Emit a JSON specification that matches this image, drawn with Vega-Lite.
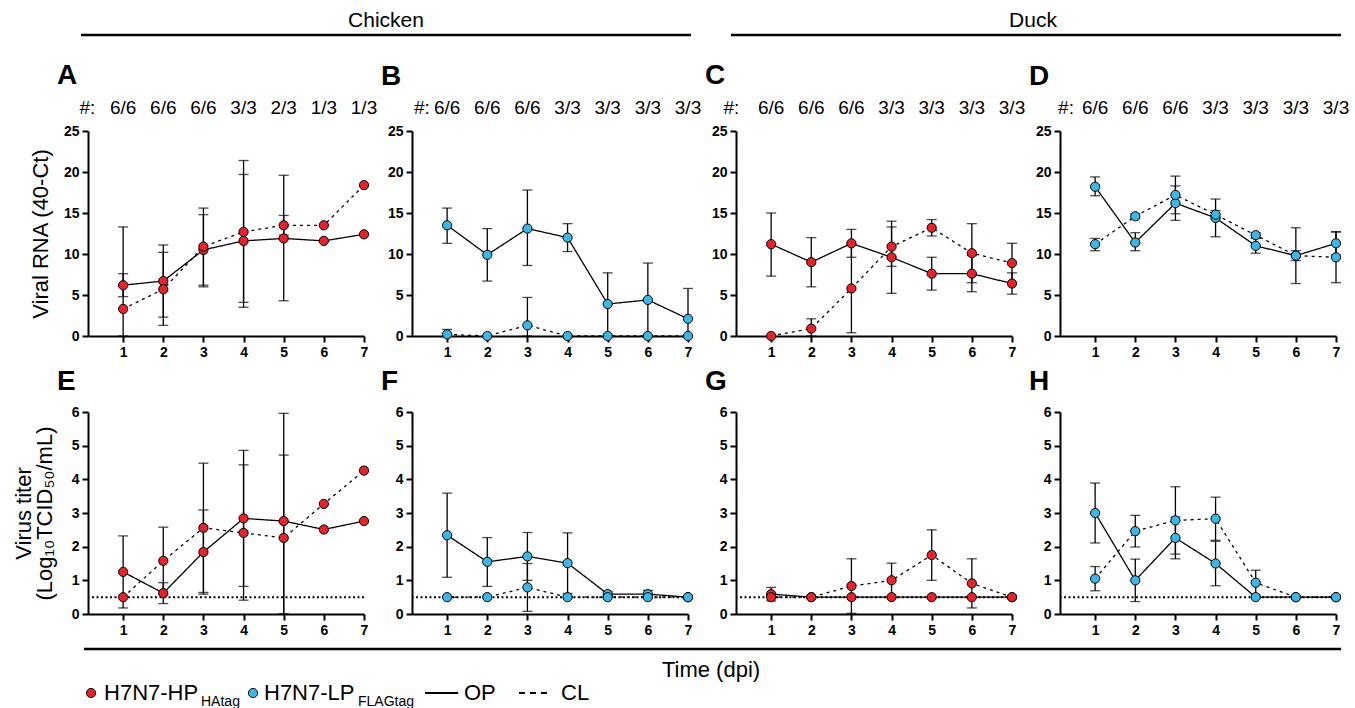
{
"$schema":"https://vega.github.io/schema/vega-lite/v6.json",
"padding":{"left":12,"top":10,"right":5,"bottom":0},
"background":"white",
"config":{"font":"Liberation Sans","view":{"stroke":null},
"axis":{"domainColor":"black","domainWidth":2,"tickColor":"black","tickWidth":2,"tickSize":6,"labelColor":"black","labelFontSize":14,"labelFontWeight":"bold","labelFont":"Liberation Sans","labelPadding":3,"labelFlush":false,"grid":false,"titleFont":"Liberation Sans","titleFontSize":22,"titleFontWeight":"normal","titleColor":"black"},
"title":{"font":"Liberation Sans","fontSize":28,"fontWeight":"bold","color":"black","anchor":"start","frame":"group","dx":-31}},
"datasets":{
"d":[
{"p":"A","s":"HP","g":"OP","day":1,"m":6.2,"lo":4.8,"hi":7.6},{"p":"A","s":"HP","g":"OP","day":2,"m":6.7,"lo":2.3,"hi":11.1},{"p":"A","s":"HP","g":"OP","day":3,"m":10.5,"lo":6.0,"hi":14.8},{"p":"A","s":"HP","g":"OP","day":4,"m":11.6,"lo":3.5,"hi":19.7},{"p":"A","s":"HP","g":"OP","day":5,"m":11.9,"lo":4.3,"hi":19.6},{"p":"A","s":"HP","g":"OP","day":6,"m":11.6},{"p":"A","s":"HP","g":"OP","day":7,"m":12.4},
{"p":"A","s":"HP","g":"CL","day":1,"m":3.3,"lo":0,"hi":13.3},{"p":"A","s":"HP","g":"CL","day":2,"m":5.7,"lo":1.3,"hi":10.2},{"p":"A","s":"HP","g":"CL","day":3,"m":10.9,"lo":6.2,"hi":15.6},{"p":"A","s":"HP","g":"CL","day":4,"m":12.7,"lo":4.1,"hi":21.4},{"p":"A","s":"HP","g":"CL","day":5,"m":13.5,"lo":12.3,"hi":14.7},{"p":"A","s":"HP","g":"CL","day":6,"m":13.5},{"p":"A","s":"HP","g":"CL","day":7,"m":18.4},
{"p":"B","s":"LP","g":"OP","day":1,"m":13.5,"lo":11.3,"hi":15.6},{"p":"B","s":"LP","g":"OP","day":2,"m":9.9,"lo":6.7,"hi":13.1},{"p":"B","s":"LP","g":"OP","day":3,"m":13.1,"lo":8.6,"hi":17.8},{"p":"B","s":"LP","g":"OP","day":4,"m":12.0,"lo":10.3,"hi":13.7},{"p":"B","s":"LP","g":"OP","day":5,"m":3.9,"lo":0,"hi":7.7},{"p":"B","s":"LP","g":"OP","day":6,"m":4.4,"lo":0,"hi":8.9},{"p":"B","s":"LP","g":"OP","day":7,"m":2.1,"lo":0,"hi":5.8},
{"p":"B","s":"LP","g":"CL","day":1,"m":0.2,"lo":0,"hi":0.8},{"p":"B","s":"LP","g":"CL","day":2,"m":0},{"p":"B","s":"LP","g":"CL","day":3,"m":1.3,"lo":0,"hi":4.7},{"p":"B","s":"LP","g":"CL","day":4,"m":0},{"p":"B","s":"LP","g":"CL","day":5,"m":0},{"p":"B","s":"LP","g":"CL","day":6,"m":0},{"p":"B","s":"LP","g":"CL","day":7,"m":0},
{"p":"C","s":"HP","g":"OP","day":1,"m":11.2,"lo":7.3,"hi":15.0},{"p":"C","s":"HP","g":"OP","day":2,"m":9.0,"lo":6.0,"hi":12.0},{"p":"C","s":"HP","g":"OP","day":3,"m":11.3,"lo":9.6,"hi":13.0},{"p":"C","s":"HP","g":"OP","day":4,"m":9.6,"lo":5.2,"hi":14.0},{"p":"C","s":"HP","g":"OP","day":5,"m":7.6,"lo":5.6,"hi":9.6},{"p":"C","s":"HP","g":"OP","day":6,"m":7.6,"lo":5.4,"hi":9.8},{"p":"C","s":"HP","g":"OP","day":7,"m":6.4,"lo":5.1,"hi":7.7},
{"p":"C","s":"HP","g":"CL","day":1,"m":0},{"p":"C","s":"HP","g":"CL","day":2,"m":0.9,"lo":0,"hi":2.1},{"p":"C","s":"HP","g":"CL","day":3,"m":5.8,"lo":0.4,"hi":11.2},{"p":"C","s":"HP","g":"CL","day":4,"m":10.9,"lo":8.5,"hi":13.3},{"p":"C","s":"HP","g":"CL","day":5,"m":13.2,"lo":12.2,"hi":14.2},{"p":"C","s":"HP","g":"CL","day":6,"m":10.1,"lo":6.5,"hi":13.7},{"p":"C","s":"HP","g":"CL","day":7,"m":8.9,"lo":6.5,"hi":11.3},
{"p":"D","s":"LP","g":"OP","day":1,"m":18.2,"lo":17.1,"hi":19.4},{"p":"D","s":"LP","g":"OP","day":2,"m":11.4,"lo":10.4,"hi":12.6},{"p":"D","s":"LP","g":"OP","day":3,"m":16.2,"lo":14.1,"hi":18.3},{"p":"D","s":"LP","g":"OP","day":4,"m":14.4,"lo":12.1,"hi":16.7},{"p":"D","s":"LP","g":"OP","day":5,"m":11.0,"lo":10.1,"hi":11.9},{"p":"D","s":"LP","g":"OP","day":6,"m":9.8,"lo":6.4,"hi":13.2},{"p":"D","s":"LP","g":"OP","day":7,"m":11.3,"lo":9.9,"hi":12.7},
{"p":"D","s":"LP","g":"CL","day":1,"m":11.2,"lo":10.4,"hi":11.9},{"p":"D","s":"LP","g":"CL","day":2,"m":14.6,"lo":14.3,"hi":14.9},{"p":"D","s":"LP","g":"CL","day":3,"m":17.2,"lo":14.9,"hi":19.5},{"p":"D","s":"LP","g":"CL","day":4,"m":14.8,"lo":14.3,"hi":15.3},{"p":"D","s":"LP","g":"CL","day":5,"m":12.3,"lo":12.0,"hi":12.6},{"p":"D","s":"LP","g":"CL","day":6,"m":9.8,"lo":9.2,"hi":10.4},{"p":"D","s":"LP","g":"CL","day":7,"m":9.6,"lo":6.5,"hi":12.7},
{"p":"E","s":"HP","g":"OP","day":1,"m":1.25,"lo":0.18,"hi":2.32},{"p":"E","s":"HP","g":"OP","day":2,"m":0.62,"lo":0.31,"hi":0.93},{"p":"E","s":"HP","g":"OP","day":3,"m":1.84,"lo":0.59,"hi":3.09},{"p":"E","s":"HP","g":"OP","day":4,"m":2.84,"lo":0.82,"hi":4.86},{"p":"E","s":"HP","g":"OP","day":5,"m":2.76,"lo":0,"hi":5.96},{"p":"E","s":"HP","g":"OP","day":6,"m":2.51},{"p":"E","s":"HP","g":"OP","day":7,"m":2.76},
{"p":"E","s":"HP","g":"CL","day":1,"m":0.5},{"p":"E","s":"HP","g":"CL","day":2,"m":1.58,"lo":0.58,"hi":2.58},{"p":"E","s":"HP","g":"CL","day":3,"m":2.56,"lo":0.64,"hi":4.48},{"p":"E","s":"HP","g":"CL","day":4,"m":2.41,"lo":0.41,"hi":4.43},{"p":"E","s":"HP","g":"CL","day":5,"m":2.26,"lo":0,"hi":4.72},{"p":"E","s":"HP","g":"CL","day":6,"m":3.27},{"p":"E","s":"HP","g":"CL","day":7,"m":4.26},
{"p":"F","s":"LP","g":"OP","day":1,"m":2.34,"lo":1.09,"hi":3.59},{"p":"F","s":"LP","g":"OP","day":2,"m":1.55,"lo":0.82,"hi":2.27},{"p":"F","s":"LP","g":"OP","day":3,"m":1.71,"lo":1.0,"hi":2.42},{"p":"F","s":"LP","g":"OP","day":4,"m":1.51,"lo":0.61,"hi":2.41},{"p":"F","s":"LP","g":"OP","day":5,"m":0.59,"lo":0.51,"hi":0.67},{"p":"F","s":"LP","g":"OP","day":6,"m":0.59,"lo":0.48,"hi":0.7},{"p":"F","s":"LP","g":"OP","day":7,"m":0.5},
{"p":"F","s":"LP","g":"CL","day":1,"m":0.5},{"p":"F","s":"LP","g":"CL","day":2,"m":0.5},{"p":"F","s":"LP","g":"CL","day":3,"m":0.79,"lo":0.08,"hi":1.5},{"p":"F","s":"LP","g":"CL","day":4,"m":0.5},{"p":"F","s":"LP","g":"CL","day":5,"m":0.5},{"p":"F","s":"LP","g":"CL","day":6,"m":0.5},{"p":"F","s":"LP","g":"CL","day":7,"m":0.5},
{"p":"G","s":"HP","g":"OP","day":1,"m":0.59,"lo":0.39,"hi":0.79},{"p":"G","s":"HP","g":"OP","day":2,"m":0.5},{"p":"G","s":"HP","g":"OP","day":3,"m":0.5},{"p":"G","s":"HP","g":"OP","day":4,"m":0.5},{"p":"G","s":"HP","g":"OP","day":5,"m":0.5},{"p":"G","s":"HP","g":"OP","day":6,"m":0.5},{"p":"G","s":"HP","g":"OP","day":7,"m":0.5},
{"p":"G","s":"HP","g":"CL","day":1,"m":0.5},{"p":"G","s":"HP","g":"CL","day":2,"m":0.5},{"p":"G","s":"HP","g":"CL","day":3,"m":0.83,"lo":0.02,"hi":1.64},{"p":"G","s":"HP","g":"CL","day":4,"m":1.0,"lo":0.49,"hi":1.51},{"p":"G","s":"HP","g":"CL","day":5,"m":1.75,"lo":1.0,"hi":2.5},{"p":"G","s":"HP","g":"CL","day":6,"m":0.91,"lo":0.18,"hi":1.64},{"p":"G","s":"HP","g":"CL","day":7,"m":0.5},
{"p":"H","s":"LP","g":"OP","day":1,"m":3.0,"lo":2.11,"hi":3.89},{"p":"H","s":"LP","g":"OP","day":2,"m":1.0,"lo":0.37,"hi":1.63},{"p":"H","s":"LP","g":"OP","day":3,"m":2.26,"lo":1.64,"hi":2.88},{"p":"H","s":"LP","g":"OP","day":4,"m":1.5,"lo":0.84,"hi":2.16},{"p":"H","s":"LP","g":"OP","day":5,"m":0.5},{"p":"H","s":"LP","g":"OP","day":6,"m":0.5},{"p":"H","s":"LP","g":"OP","day":7,"m":0.5},
{"p":"H","s":"LP","g":"CL","day":1,"m":1.05,"lo":0.69,"hi":1.41},{"p":"H","s":"LP","g":"CL","day":2,"m":2.46,"lo":1.99,"hi":2.93},{"p":"H","s":"LP","g":"CL","day":3,"m":2.78,"lo":1.78,"hi":3.78},{"p":"H","s":"LP","g":"CL","day":4,"m":2.83,"lo":2.19,"hi":3.47},{"p":"H","s":"LP","g":"CL","day":5,"m":0.93,"lo":0.56,"hi":1.3},{"p":"H","s":"LP","g":"CL","day":6,"m":0.5},{"p":"H","s":"LP","g":"CL","day":7,"m":0.5}
],
"n":[
{"p":"A","day":0.11,"t":"#:"},{"p":"A","day":1,"t":"6/6"},{"p":"A","day":2,"t":"6/6"},{"p":"A","day":3,"t":"6/6"},{"p":"A","day":4,"t":"3/3"},{"p":"A","day":5,"t":"2/3"},{"p":"A","day":6,"t":"1/3"},{"p":"A","day":7,"t":"1/3"},
{"p":"B","day":0.37,"t":"#:"},{"p":"B","day":1,"t":"6/6"},{"p":"B","day":2,"t":"6/6"},{"p":"B","day":3,"t":"6/6"},{"p":"B","day":4,"t":"3/3"},{"p":"B","day":5,"t":"3/3"},{"p":"B","day":6,"t":"3/3"},{"p":"B","day":7,"t":"3/3"},
{"p":"C","day":0.01,"t":"#:"},{"p":"C","day":1,"t":"6/6"},{"p":"C","day":2,"t":"6/6"},{"p":"C","day":3,"t":"6/6"},{"p":"C","day":4,"t":"3/3"},{"p":"C","day":5,"t":"3/3"},{"p":"C","day":6,"t":"3/3"},{"p":"C","day":7,"t":"3/3"},
{"p":"D","day":0.275,"t":"#:"},{"p":"D","day":1,"t":"6/6"},{"p":"D","day":2,"t":"6/6"},{"p":"D","day":3,"t":"6/6"},{"p":"D","day":4,"t":"3/3"},{"p":"D","day":5,"t":"3/3"},{"p":"D","day":6,"t":"3/3"},{"p":"D","day":7,"t":"3/3"}
],
"hdr":[
{"p":"A","kind":"line","x":-0.049,"x2":15.146,"y":36.71},{"p":"A","kind":"text","x":7.548,"y":38.41,"t":"Chicken"},
{"p":"C","kind":"line","x":0.0,"x2":15.195,"y":36.71},{"p":"C","kind":"text","x":7.523,"y":38.41,"t":"Duck"}
],
"ftr":[
{"kind":"line","x":0.025,"x2":31.337,"y":-1.04},
{"kind":"title","x":15.644,"y":-1.663,"t":"Time (dpi)"},
{"kind":"sym","x":0.2,"y":-2.347,"s":"HP"},{"kind":"sym","x":4.235,"y":-2.347,"s":"LP"},
{"kind":"lab","x":0.524,"y":-2.347,"t":"H7N7-HP"},{"kind":"lab","x":4.509,"y":-2.347,"t":"H7N7-LP"},{"kind":"lab","x":9.49,"y":-2.347,"t":"OP"},{"kind":"lab","x":11.907,"y":-2.347,"t":"CL"},
{"kind":"sub","x":2.94,"y":-2.347,"t":"HAtag"},{"kind":"sub","x":6.85,"y":-2.347,"t":"FLAGtag"},
{"kind":"key","g":"OP","x":8.52,"x2":9.345,"y":-2.347},{"kind":"key","g":"CL","x":10.86,"x2":11.58,"y":-2.347}
],
"one":[{}]
},
"columns":4,
"spacing":{"row":76,"column":48},
"bounds":"flush",
"concat":[
{"width":276,"height":205,"title":{"text":"A","offset":-80.4},
"layer":[
{"data":{"name":"hdr"},"transform":[{"filter":"datum.p=='A' && datum.kind=='line'"}],"mark":{"type":"rule","color":"black","strokeWidth":2.5},"encoding":{"x":{"field":"x","type":"quantitative","scale":{"domain":[0.125,7],"nice":false,"zero":false},"axis":{"values":[1,2,3,4,5,6,7],"format":"d","title":null}},"x2":{"field":"x2"},"y":{"field":"y","type":"quantitative","scale":{"domain":[0,25],"nice":false},"axis":{"values":[0,5,10,15,20,25],"title":"Viral RNA (40-Ct)","titlePadding":11}}}},
{"data":{"name":"hdr"},"transform":[{"filter":"datum.p=='A' && datum.kind=='text'"}],"mark":{"type":"text","fontSize":21,"color":"black","baseline":"middle"},"encoding":{"x":{"field":"x","type":"quantitative","scale":{"domain":[0.125,7],"nice":false,"zero":false},"axis":{"values":[1,2,3,4,5,6,7],"format":"d","title":null}},"y":{"field":"y","type":"quantitative","scale":{"domain":[0,25],"nice":false},"axis":{"values":[0,5,10,15,20,25],"title":"Viral RNA (40-Ct)","titlePadding":11}},"text":{"field":"t"}}},
{"data":{"name":"d"},"transform":[{"filter":"datum.p=='A' && isValid(datum.lo)"}],"mark":{"type":"rule","color":"black","strokeWidth":1.3},"encoding":{"x":{"field":"day","type":"quantitative","scale":{"domain":[0.125,7],"nice":false,"zero":false},"axis":{"values":[1,2,3,4,5,6,7],"format":"d","title":null}},"y":{"field":"lo","type":"quantitative","scale":{"domain":[0,25],"nice":false},"axis":{"values":[0,5,10,15,20,25],"title":"Viral RNA (40-Ct)","titlePadding":11}},"y2":{"field":"hi"}}},
{"data":{"name":"d"},"transform":[{"filter":"datum.p=='A' && isValid(datum.lo)"}],"mark":{"type":"tick","orient":"horizontal","color":"black","thickness":1.3,"size":10},"encoding":{"x":{"field":"day","type":"quantitative","scale":{"domain":[0.125,7],"nice":false,"zero":false},"axis":{"values":[1,2,3,4,5,6,7],"format":"d","title":null}},"y":{"field":"lo","type":"quantitative","scale":{"domain":[0,25],"nice":false},"axis":{"values":[0,5,10,15,20,25],"title":"Viral RNA (40-Ct)","titlePadding":11}}}},
{"data":{"name":"d"},"transform":[{"filter":"datum.p=='A' && isValid(datum.lo)"}],"mark":{"type":"tick","orient":"horizontal","color":"black","thickness":1.3,"size":10},"encoding":{"x":{"field":"day","type":"quantitative","scale":{"domain":[0.125,7],"nice":false,"zero":false},"axis":{"values":[1,2,3,4,5,6,7],"format":"d","title":null}},"y":{"field":"hi","type":"quantitative","scale":{"domain":[0,25],"nice":false},"axis":{"values":[0,5,10,15,20,25],"title":"Viral RNA (40-Ct)","titlePadding":11}}}},
{"data":{"name":"d"},"transform":[{"filter":"datum.p=='A'"}],"mark":{"type":"line","color":"black","strokeWidth":1.3},"encoding":{"x":{"field":"day","type":"quantitative","scale":{"domain":[0.125,7],"nice":false,"zero":false},"axis":{"values":[1,2,3,4,5,6,7],"format":"d","title":null}},"y":{"field":"m","type":"quantitative","scale":{"domain":[0,25],"nice":false},"axis":{"values":[0,5,10,15,20,25],"title":"Viral RNA (40-Ct)","titlePadding":11}},"strokeDash":{"field":"g","type":"nominal","scale":{"domain":["OP","CL"],"range":[[1,0],[3,4]]},"legend":null}}},
{"data":{"name":"d"},"transform":[{"filter":"datum.p=='A'"}],"mark":{"type":"circle","size":85,"stroke":"black","strokeWidth":1,"opacity":1},"encoding":{"x":{"field":"day","type":"quantitative","scale":{"domain":[0.125,7],"nice":false,"zero":false},"axis":{"values":[1,2,3,4,5,6,7],"format":"d","title":null}},"y":{"field":"m","type":"quantitative","scale":{"domain":[0,25],"nice":false},"axis":{"values":[0,5,10,15,20,25],"title":"Viral RNA (40-Ct)","titlePadding":11}},"fill":{"field":"s","type":"nominal","scale":{"domain":["HP","LP"],"range":["#e5232a","#3cb6e4"]},"legend":null}}},
{"data":{"name":"n"},"transform":[{"filter":"datum.p=='A'"}],"mark":{"type":"text","fontSize":19,"color":"black","baseline":"middle"},"encoding":{"x":{"field":"day","type":"quantitative","scale":{"domain":[0.125,7],"nice":false,"zero":false},"axis":{"values":[1,2,3,4,5,6,7],"format":"d","title":null}},"y":{"datum":27.8,"type":"quantitative","scale":{"domain":[0,25],"nice":false},"axis":{"values":[0,5,10,15,20,25],"title":"Viral RNA (40-Ct)","titlePadding":11}},"text":{"field":"t"}}}
]},
{"width":276,"height":205,"title":{"text":"B","offset":7.6},
"layer":[
{"data":{"name":"d"},"transform":[{"filter":"datum.p=='B' && isValid(datum.lo)"}],"mark":{"type":"rule","color":"black","strokeWidth":1.3},"encoding":{"x":{"field":"day","type":"quantitative","scale":{"domain":[0.125,7],"nice":false,"zero":false},"axis":{"values":[1,2,3,4,5,6,7],"format":"d","title":null}},"y":{"field":"lo","type":"quantitative","scale":{"domain":[0,25],"nice":false},"axis":{"values":[0,5,10,15,20,25],"title":null}},"y2":{"field":"hi"}}},
{"data":{"name":"d"},"transform":[{"filter":"datum.p=='B' && isValid(datum.lo)"}],"mark":{"type":"tick","orient":"horizontal","color":"black","thickness":1.3,"size":10},"encoding":{"x":{"field":"day","type":"quantitative","scale":{"domain":[0.125,7],"nice":false,"zero":false},"axis":{"values":[1,2,3,4,5,6,7],"format":"d","title":null}},"y":{"field":"lo","type":"quantitative","scale":{"domain":[0,25],"nice":false},"axis":{"values":[0,5,10,15,20,25],"title":null}}}},
{"data":{"name":"d"},"transform":[{"filter":"datum.p=='B' && isValid(datum.lo)"}],"mark":{"type":"tick","orient":"horizontal","color":"black","thickness":1.3,"size":10},"encoding":{"x":{"field":"day","type":"quantitative","scale":{"domain":[0.125,7],"nice":false,"zero":false},"axis":{"values":[1,2,3,4,5,6,7],"format":"d","title":null}},"y":{"field":"hi","type":"quantitative","scale":{"domain":[0,25],"nice":false},"axis":{"values":[0,5,10,15,20,25],"title":null}}}},
{"data":{"name":"d"},"transform":[{"filter":"datum.p=='B'"}],"mark":{"type":"line","color":"black","strokeWidth":1.3},"encoding":{"x":{"field":"day","type":"quantitative","scale":{"domain":[0.125,7],"nice":false,"zero":false},"axis":{"values":[1,2,3,4,5,6,7],"format":"d","title":null}},"y":{"field":"m","type":"quantitative","scale":{"domain":[0,25],"nice":false},"axis":{"values":[0,5,10,15,20,25],"title":null}},"strokeDash":{"field":"g","type":"nominal","scale":{"domain":["OP","CL"],"range":[[1,0],[3,4]]},"legend":null}}},
{"data":{"name":"d"},"transform":[{"filter":"datum.p=='B'"}],"mark":{"type":"circle","size":85,"stroke":"black","strokeWidth":1,"opacity":1},"encoding":{"x":{"field":"day","type":"quantitative","scale":{"domain":[0.125,7],"nice":false,"zero":false},"axis":{"values":[1,2,3,4,5,6,7],"format":"d","title":null}},"y":{"field":"m","type":"quantitative","scale":{"domain":[0,25],"nice":false},"axis":{"values":[0,5,10,15,20,25],"title":null}},"fill":{"field":"s","type":"nominal","scale":{"domain":["HP","LP"],"range":["#e5232a","#3cb6e4"]},"legend":null}}},
{"data":{"name":"n"},"transform":[{"filter":"datum.p=='B'"}],"mark":{"type":"text","fontSize":19,"color":"black","baseline":"middle"},"encoding":{"x":{"field":"day","type":"quantitative","scale":{"domain":[0.125,7],"nice":false,"zero":false},"axis":{"values":[1,2,3,4,5,6,7],"format":"d","title":null}},"y":{"datum":27.8,"type":"quantitative","scale":{"domain":[0,25],"nice":false},"axis":{"values":[0,5,10,15,20,25],"title":null}},"text":{"field":"t"}}}
]},
{"width":276,"height":205,"title":{"text":"C","offset":-80.4},
"layer":[
{"data":{"name":"hdr"},"transform":[{"filter":"datum.p=='C' && datum.kind=='line'"}],"mark":{"type":"rule","color":"black","strokeWidth":2.5},"encoding":{"x":{"field":"x","type":"quantitative","scale":{"domain":[0.125,7],"nice":false,"zero":false},"axis":{"values":[1,2,3,4,5,6,7],"format":"d","title":null}},"x2":{"field":"x2"},"y":{"field":"y","type":"quantitative","scale":{"domain":[0,25],"nice":false},"axis":{"values":[0,5,10,15,20,25],"title":null}}}},
{"data":{"name":"hdr"},"transform":[{"filter":"datum.p=='C' && datum.kind=='text'"}],"mark":{"type":"text","fontSize":21,"color":"black","baseline":"middle"},"encoding":{"x":{"field":"x","type":"quantitative","scale":{"domain":[0.125,7],"nice":false,"zero":false},"axis":{"values":[1,2,3,4,5,6,7],"format":"d","title":null}},"y":{"field":"y","type":"quantitative","scale":{"domain":[0,25],"nice":false},"axis":{"values":[0,5,10,15,20,25],"title":null}},"text":{"field":"t"}}},
{"data":{"name":"d"},"transform":[{"filter":"datum.p=='C' && isValid(datum.lo)"}],"mark":{"type":"rule","color":"black","strokeWidth":1.3},"encoding":{"x":{"field":"day","type":"quantitative","scale":{"domain":[0.125,7],"nice":false,"zero":false},"axis":{"values":[1,2,3,4,5,6,7],"format":"d","title":null}},"y":{"field":"lo","type":"quantitative","scale":{"domain":[0,25],"nice":false},"axis":{"values":[0,5,10,15,20,25],"title":null}},"y2":{"field":"hi"}}},
{"data":{"name":"d"},"transform":[{"filter":"datum.p=='C' && isValid(datum.lo)"}],"mark":{"type":"tick","orient":"horizontal","color":"black","thickness":1.3,"size":10},"encoding":{"x":{"field":"day","type":"quantitative","scale":{"domain":[0.125,7],"nice":false,"zero":false},"axis":{"values":[1,2,3,4,5,6,7],"format":"d","title":null}},"y":{"field":"lo","type":"quantitative","scale":{"domain":[0,25],"nice":false},"axis":{"values":[0,5,10,15,20,25],"title":null}}}},
{"data":{"name":"d"},"transform":[{"filter":"datum.p=='C' && isValid(datum.lo)"}],"mark":{"type":"tick","orient":"horizontal","color":"black","thickness":1.3,"size":10},"encoding":{"x":{"field":"day","type":"quantitative","scale":{"domain":[0.125,7],"nice":false,"zero":false},"axis":{"values":[1,2,3,4,5,6,7],"format":"d","title":null}},"y":{"field":"hi","type":"quantitative","scale":{"domain":[0,25],"nice":false},"axis":{"values":[0,5,10,15,20,25],"title":null}}}},
{"data":{"name":"d"},"transform":[{"filter":"datum.p=='C'"}],"mark":{"type":"line","color":"black","strokeWidth":1.3},"encoding":{"x":{"field":"day","type":"quantitative","scale":{"domain":[0.125,7],"nice":false,"zero":false},"axis":{"values":[1,2,3,4,5,6,7],"format":"d","title":null}},"y":{"field":"m","type":"quantitative","scale":{"domain":[0,25],"nice":false},"axis":{"values":[0,5,10,15,20,25],"title":null}},"strokeDash":{"field":"g","type":"nominal","scale":{"domain":["OP","CL"],"range":[[1,0],[3,4]]},"legend":null}}},
{"data":{"name":"d"},"transform":[{"filter":"datum.p=='C'"}],"mark":{"type":"circle","size":85,"stroke":"black","strokeWidth":1,"opacity":1},"encoding":{"x":{"field":"day","type":"quantitative","scale":{"domain":[0.125,7],"nice":false,"zero":false},"axis":{"values":[1,2,3,4,5,6,7],"format":"d","title":null}},"y":{"field":"m","type":"quantitative","scale":{"domain":[0,25],"nice":false},"axis":{"values":[0,5,10,15,20,25],"title":null}},"fill":{"field":"s","type":"nominal","scale":{"domain":["HP","LP"],"range":["#e5232a","#3cb6e4"]},"legend":null}}},
{"data":{"name":"n"},"transform":[{"filter":"datum.p=='C'"}],"mark":{"type":"text","fontSize":19,"color":"black","baseline":"middle"},"encoding":{"x":{"field":"day","type":"quantitative","scale":{"domain":[0.125,7],"nice":false,"zero":false},"axis":{"values":[1,2,3,4,5,6,7],"format":"d","title":null}},"y":{"datum":27.8,"type":"quantitative","scale":{"domain":[0,25],"nice":false},"axis":{"values":[0,5,10,15,20,25],"title":null}},"text":{"field":"t"}}}
]},
{"width":276,"height":205,"title":{"text":"D","offset":7.6},
"layer":[
{"data":{"name":"d"},"transform":[{"filter":"datum.p=='D' && isValid(datum.lo)"}],"mark":{"type":"rule","color":"black","strokeWidth":1.3},"encoding":{"x":{"field":"day","type":"quantitative","scale":{"domain":[0.125,7],"nice":false,"zero":false},"axis":{"values":[1,2,3,4,5,6,7],"format":"d","title":null}},"y":{"field":"lo","type":"quantitative","scale":{"domain":[0,25],"nice":false},"axis":{"values":[0,5,10,15,20,25],"title":null}},"y2":{"field":"hi"}}},
{"data":{"name":"d"},"transform":[{"filter":"datum.p=='D' && isValid(datum.lo)"}],"mark":{"type":"tick","orient":"horizontal","color":"black","thickness":1.3,"size":10},"encoding":{"x":{"field":"day","type":"quantitative","scale":{"domain":[0.125,7],"nice":false,"zero":false},"axis":{"values":[1,2,3,4,5,6,7],"format":"d","title":null}},"y":{"field":"lo","type":"quantitative","scale":{"domain":[0,25],"nice":false},"axis":{"values":[0,5,10,15,20,25],"title":null}}}},
{"data":{"name":"d"},"transform":[{"filter":"datum.p=='D' && isValid(datum.lo)"}],"mark":{"type":"tick","orient":"horizontal","color":"black","thickness":1.3,"size":10},"encoding":{"x":{"field":"day","type":"quantitative","scale":{"domain":[0.125,7],"nice":false,"zero":false},"axis":{"values":[1,2,3,4,5,6,7],"format":"d","title":null}},"y":{"field":"hi","type":"quantitative","scale":{"domain":[0,25],"nice":false},"axis":{"values":[0,5,10,15,20,25],"title":null}}}},
{"data":{"name":"d"},"transform":[{"filter":"datum.p=='D'"}],"mark":{"type":"line","color":"black","strokeWidth":1.3},"encoding":{"x":{"field":"day","type":"quantitative","scale":{"domain":[0.125,7],"nice":false,"zero":false},"axis":{"values":[1,2,3,4,5,6,7],"format":"d","title":null}},"y":{"field":"m","type":"quantitative","scale":{"domain":[0,25],"nice":false},"axis":{"values":[0,5,10,15,20,25],"title":null}},"strokeDash":{"field":"g","type":"nominal","scale":{"domain":["OP","CL"],"range":[[1,0],[3,4]]},"legend":null}}},
{"data":{"name":"d"},"transform":[{"filter":"datum.p=='D'"}],"mark":{"type":"circle","size":85,"stroke":"black","strokeWidth":1,"opacity":1},"encoding":{"x":{"field":"day","type":"quantitative","scale":{"domain":[0.125,7],"nice":false,"zero":false},"axis":{"values":[1,2,3,4,5,6,7],"format":"d","title":null}},"y":{"field":"m","type":"quantitative","scale":{"domain":[0,25],"nice":false},"axis":{"values":[0,5,10,15,20,25],"title":null}},"fill":{"field":"s","type":"nominal","scale":{"domain":["HP","LP"],"range":["#e5232a","#3cb6e4"]},"legend":null}}},
{"data":{"name":"n"},"transform":[{"filter":"datum.p=='D'"}],"mark":{"type":"text","fontSize":19,"color":"black","baseline":"middle"},"encoding":{"x":{"field":"day","type":"quantitative","scale":{"domain":[0.125,7],"nice":false,"zero":false},"axis":{"values":[1,2,3,4,5,6,7],"format":"d","title":null}},"y":{"datum":27.8,"type":"quantitative","scale":{"domain":[0,25],"nice":false},"axis":{"values":[0,5,10,15,20,25],"title":null}},"text":{"field":"t"}}}
]},
{"width":276,"height":202,"title":{"text":"E","offset":9},
"layer":[
{"data":{"name":"one"},"mark":{"type":"rule","color":"black","strokeWidth":2,"strokeDash":[2,2.5]},"encoding":{"y":{"datum":0.5,"type":"quantitative","scale":{"domain":[0,6],"nice":false},"axis":{"values":[0,1,2,3,4,5,6],"title":["Virus titer","(Log₁₀TCID₅₀/mL)"],"titlePadding":15,"titleLineHeight":21}}}},
{"data":{"name":"d"},"transform":[{"filter":"datum.p=='E' && isValid(datum.lo)"}],"mark":{"type":"rule","color":"black","strokeWidth":1.3},"encoding":{"x":{"field":"day","type":"quantitative","scale":{"domain":[0.125,7],"nice":false,"zero":false},"axis":{"values":[1,2,3,4,5,6,7],"format":"d","title":null}},"y":{"field":"lo","type":"quantitative","scale":{"domain":[0,6],"nice":false},"axis":{"values":[0,1,2,3,4,5,6],"title":["Virus titer","(Log₁₀TCID₅₀/mL)"],"titlePadding":15,"titleLineHeight":21}},"y2":{"field":"hi"}}},
{"data":{"name":"d"},"transform":[{"filter":"datum.p=='E' && isValid(datum.lo)"}],"mark":{"type":"tick","orient":"horizontal","color":"black","thickness":1.3,"size":10},"encoding":{"x":{"field":"day","type":"quantitative","scale":{"domain":[0.125,7],"nice":false,"zero":false},"axis":{"values":[1,2,3,4,5,6,7],"format":"d","title":null}},"y":{"field":"lo","type":"quantitative","scale":{"domain":[0,6],"nice":false},"axis":{"values":[0,1,2,3,4,5,6],"title":["Virus titer","(Log₁₀TCID₅₀/mL)"],"titlePadding":15,"titleLineHeight":21}}}},
{"data":{"name":"d"},"transform":[{"filter":"datum.p=='E' && isValid(datum.lo)"}],"mark":{"type":"tick","orient":"horizontal","color":"black","thickness":1.3,"size":10},"encoding":{"x":{"field":"day","type":"quantitative","scale":{"domain":[0.125,7],"nice":false,"zero":false},"axis":{"values":[1,2,3,4,5,6,7],"format":"d","title":null}},"y":{"field":"hi","type":"quantitative","scale":{"domain":[0,6],"nice":false},"axis":{"values":[0,1,2,3,4,5,6],"title":["Virus titer","(Log₁₀TCID₅₀/mL)"],"titlePadding":15,"titleLineHeight":21}}}},
{"data":{"name":"d"},"transform":[{"filter":"datum.p=='E'"}],"mark":{"type":"line","color":"black","strokeWidth":1.3},"encoding":{"x":{"field":"day","type":"quantitative","scale":{"domain":[0.125,7],"nice":false,"zero":false},"axis":{"values":[1,2,3,4,5,6,7],"format":"d","title":null}},"y":{"field":"m","type":"quantitative","scale":{"domain":[0,6],"nice":false},"axis":{"values":[0,1,2,3,4,5,6],"title":["Virus titer","(Log₁₀TCID₅₀/mL)"],"titlePadding":15,"titleLineHeight":21}},"strokeDash":{"field":"g","type":"nominal","scale":{"domain":["OP","CL"],"range":[[1,0],[3,4]]},"legend":null}}},
{"data":{"name":"d"},"transform":[{"filter":"datum.p=='E'"}],"mark":{"type":"circle","size":85,"stroke":"black","strokeWidth":1,"opacity":1},"encoding":{"x":{"field":"day","type":"quantitative","scale":{"domain":[0.125,7],"nice":false,"zero":false},"axis":{"values":[1,2,3,4,5,6,7],"format":"d","title":null}},"y":{"field":"m","type":"quantitative","scale":{"domain":[0,6],"nice":false},"axis":{"values":[0,1,2,3,4,5,6],"title":["Virus titer","(Log₁₀TCID₅₀/mL)"],"titlePadding":15,"titleLineHeight":21}},"fill":{"field":"s","type":"nominal","scale":{"domain":["HP","LP"],"range":["#e5232a","#3cb6e4"]},"legend":null}}},
{"data":{"name":"ftr"},"transform":[{"filter":"datum.kind=='line'"}],"mark":{"type":"rule","color":"black","strokeWidth":2.5},"encoding":{"x":{"field":"x","type":"quantitative","scale":{"domain":[0.125,7],"nice":false,"zero":false},"axis":{"values":[1,2,3,4,5,6,7],"format":"d","title":null}},"x2":{"field":"x2"},"y":{"field":"y","type":"quantitative","scale":{"domain":[0,6],"nice":false},"axis":{"values":[0,1,2,3,4,5,6],"title":["Virus titer","(Log₁₀TCID₅₀/mL)"],"titlePadding":15,"titleLineHeight":21}}}},
{"data":{"name":"ftr"},"transform":[{"filter":"datum.kind=='title'"}],"mark":{"type":"text","fontSize":22,"color":"black","baseline":"middle","align":"center"},"encoding":{"x":{"field":"x","type":"quantitative","scale":{"domain":[0.125,7],"nice":false,"zero":false},"axis":{"values":[1,2,3,4,5,6,7],"format":"d","title":null}},"y":{"field":"y","type":"quantitative","scale":{"domain":[0,6],"nice":false},"axis":{"values":[0,1,2,3,4,5,6],"title":["Virus titer","(Log₁₀TCID₅₀/mL)"],"titlePadding":15,"titleLineHeight":21}},"text":{"field":"t"}}},
{"data":{"name":"ftr"},"transform":[{"filter":"datum.kind=='key' && datum.g=='OP'"}],"mark":{"type":"rule","color":"black","strokeWidth":2},"encoding":{"x":{"field":"x","type":"quantitative","scale":{"domain":[0.125,7],"nice":false,"zero":false},"axis":{"values":[1,2,3,4,5,6,7],"format":"d","title":null}},"x2":{"field":"x2"},"y":{"field":"y","type":"quantitative","scale":{"domain":[0,6],"nice":false},"axis":{"values":[0,1,2,3,4,5,6],"title":["Virus titer","(Log₁₀TCID₅₀/mL)"],"titlePadding":15,"titleLineHeight":21}}}},
{"data":{"name":"ftr"},"transform":[{"filter":"datum.kind=='key' && datum.g=='CL'"}],"mark":{"type":"rule","color":"black","strokeWidth":2,"strokeDash":[6,5]},"encoding":{"x":{"field":"x","type":"quantitative","scale":{"domain":[0.125,7],"nice":false,"zero":false},"axis":{"values":[1,2,3,4,5,6,7],"format":"d","title":null}},"x2":{"field":"x2"},"y":{"field":"y","type":"quantitative","scale":{"domain":[0,6],"nice":false},"axis":{"values":[0,1,2,3,4,5,6],"title":["Virus titer","(Log₁₀TCID₅₀/mL)"],"titlePadding":15,"titleLineHeight":21}}}},
{"data":{"name":"ftr"},"transform":[{"filter":"datum.kind=='sym'"}],"mark":{"type":"circle","size":85,"stroke":"black","strokeWidth":1,"opacity":1},"encoding":{"x":{"field":"x","type":"quantitative","scale":{"domain":[0.125,7],"nice":false,"zero":false},"axis":{"values":[1,2,3,4,5,6,7],"format":"d","title":null}},"y":{"field":"y","type":"quantitative","scale":{"domain":[0,6],"nice":false},"axis":{"values":[0,1,2,3,4,5,6],"title":["Virus titer","(Log₁₀TCID₅₀/mL)"],"titlePadding":15,"titleLineHeight":21}},"fill":{"field":"s","type":"nominal","scale":{"domain":["HP","LP"],"range":["#e5232a","#3cb6e4"]},"legend":null}}},
{"data":{"name":"ftr"},"transform":[{"filter":"datum.kind=='lab'"}],"mark":{"type":"text","fontSize":22,"color":"black","baseline":"middle","align":"left"},"encoding":{"x":{"field":"x","type":"quantitative","scale":{"domain":[0.125,7],"nice":false,"zero":false},"axis":{"values":[1,2,3,4,5,6,7],"format":"d","title":null}},"y":{"field":"y","type":"quantitative","scale":{"domain":[0,6],"nice":false},"axis":{"values":[0,1,2,3,4,5,6],"title":["Virus titer","(Log₁₀TCID₅₀/mL)"],"titlePadding":15,"titleLineHeight":21}},"text":{"field":"t"}}},
{"data":{"name":"ftr"},"transform":[{"filter":"datum.kind=='sub'"}],"mark":{"type":"text","fontSize":14,"color":"black","baseline":"middle","align":"left","dy":9},"encoding":{"x":{"field":"x","type":"quantitative","scale":{"domain":[0.125,7],"nice":false,"zero":false},"axis":{"values":[1,2,3,4,5,6,7],"format":"d","title":null}},"y":{"field":"y","type":"quantitative","scale":{"domain":[0,6],"nice":false},"axis":{"values":[0,1,2,3,4,5,6],"title":["Virus titer","(Log₁₀TCID₅₀/mL)"],"titlePadding":15,"titleLineHeight":21}},"text":{"field":"t"}}}
]},
{"width":276,"height":202,"title":{"text":"F","offset":9},
"layer":[
{"data":{"name":"one"},"mark":{"type":"rule","color":"black","strokeWidth":2,"strokeDash":[2,2.5]},"encoding":{"y":{"datum":0.5,"type":"quantitative","scale":{"domain":[0,6],"nice":false},"axis":{"values":[0,1,2,3,4,5,6],"title":null}}}},
{"data":{"name":"d"},"transform":[{"filter":"datum.p=='F' && isValid(datum.lo)"}],"mark":{"type":"rule","color":"black","strokeWidth":1.3},"encoding":{"x":{"field":"day","type":"quantitative","scale":{"domain":[0.125,7],"nice":false,"zero":false},"axis":{"values":[1,2,3,4,5,6,7],"format":"d","title":null}},"y":{"field":"lo","type":"quantitative","scale":{"domain":[0,6],"nice":false},"axis":{"values":[0,1,2,3,4,5,6],"title":null}},"y2":{"field":"hi"}}},
{"data":{"name":"d"},"transform":[{"filter":"datum.p=='F' && isValid(datum.lo)"}],"mark":{"type":"tick","orient":"horizontal","color":"black","thickness":1.3,"size":10},"encoding":{"x":{"field":"day","type":"quantitative","scale":{"domain":[0.125,7],"nice":false,"zero":false},"axis":{"values":[1,2,3,4,5,6,7],"format":"d","title":null}},"y":{"field":"lo","type":"quantitative","scale":{"domain":[0,6],"nice":false},"axis":{"values":[0,1,2,3,4,5,6],"title":null}}}},
{"data":{"name":"d"},"transform":[{"filter":"datum.p=='F' && isValid(datum.lo)"}],"mark":{"type":"tick","orient":"horizontal","color":"black","thickness":1.3,"size":10},"encoding":{"x":{"field":"day","type":"quantitative","scale":{"domain":[0.125,7],"nice":false,"zero":false},"axis":{"values":[1,2,3,4,5,6,7],"format":"d","title":null}},"y":{"field":"hi","type":"quantitative","scale":{"domain":[0,6],"nice":false},"axis":{"values":[0,1,2,3,4,5,6],"title":null}}}},
{"data":{"name":"d"},"transform":[{"filter":"datum.p=='F'"}],"mark":{"type":"line","color":"black","strokeWidth":1.3},"encoding":{"x":{"field":"day","type":"quantitative","scale":{"domain":[0.125,7],"nice":false,"zero":false},"axis":{"values":[1,2,3,4,5,6,7],"format":"d","title":null}},"y":{"field":"m","type":"quantitative","scale":{"domain":[0,6],"nice":false},"axis":{"values":[0,1,2,3,4,5,6],"title":null}},"strokeDash":{"field":"g","type":"nominal","scale":{"domain":["OP","CL"],"range":[[1,0],[3,4]]},"legend":null}}},
{"data":{"name":"d"},"transform":[{"filter":"datum.p=='F'"}],"mark":{"type":"circle","size":85,"stroke":"black","strokeWidth":1,"opacity":1},"encoding":{"x":{"field":"day","type":"quantitative","scale":{"domain":[0.125,7],"nice":false,"zero":false},"axis":{"values":[1,2,3,4,5,6,7],"format":"d","title":null}},"y":{"field":"m","type":"quantitative","scale":{"domain":[0,6],"nice":false},"axis":{"values":[0,1,2,3,4,5,6],"title":null}},"fill":{"field":"s","type":"nominal","scale":{"domain":["HP","LP"],"range":["#e5232a","#3cb6e4"]},"legend":null}}}
]},
{"width":276,"height":202,"title":{"text":"G","offset":9},
"layer":[
{"data":{"name":"one"},"mark":{"type":"rule","color":"black","strokeWidth":2,"strokeDash":[2,2.5]},"encoding":{"y":{"datum":0.5,"type":"quantitative","scale":{"domain":[0,6],"nice":false},"axis":{"values":[0,1,2,3,4,5,6],"title":null}}}},
{"data":{"name":"d"},"transform":[{"filter":"datum.p=='G' && isValid(datum.lo)"}],"mark":{"type":"rule","color":"black","strokeWidth":1.3},"encoding":{"x":{"field":"day","type":"quantitative","scale":{"domain":[0.125,7],"nice":false,"zero":false},"axis":{"values":[1,2,3,4,5,6,7],"format":"d","title":null}},"y":{"field":"lo","type":"quantitative","scale":{"domain":[0,6],"nice":false},"axis":{"values":[0,1,2,3,4,5,6],"title":null}},"y2":{"field":"hi"}}},
{"data":{"name":"d"},"transform":[{"filter":"datum.p=='G' && isValid(datum.lo)"}],"mark":{"type":"tick","orient":"horizontal","color":"black","thickness":1.3,"size":10},"encoding":{"x":{"field":"day","type":"quantitative","scale":{"domain":[0.125,7],"nice":false,"zero":false},"axis":{"values":[1,2,3,4,5,6,7],"format":"d","title":null}},"y":{"field":"lo","type":"quantitative","scale":{"domain":[0,6],"nice":false},"axis":{"values":[0,1,2,3,4,5,6],"title":null}}}},
{"data":{"name":"d"},"transform":[{"filter":"datum.p=='G' && isValid(datum.lo)"}],"mark":{"type":"tick","orient":"horizontal","color":"black","thickness":1.3,"size":10},"encoding":{"x":{"field":"day","type":"quantitative","scale":{"domain":[0.125,7],"nice":false,"zero":false},"axis":{"values":[1,2,3,4,5,6,7],"format":"d","title":null}},"y":{"field":"hi","type":"quantitative","scale":{"domain":[0,6],"nice":false},"axis":{"values":[0,1,2,3,4,5,6],"title":null}}}},
{"data":{"name":"d"},"transform":[{"filter":"datum.p=='G'"}],"mark":{"type":"line","color":"black","strokeWidth":1.3},"encoding":{"x":{"field":"day","type":"quantitative","scale":{"domain":[0.125,7],"nice":false,"zero":false},"axis":{"values":[1,2,3,4,5,6,7],"format":"d","title":null}},"y":{"field":"m","type":"quantitative","scale":{"domain":[0,6],"nice":false},"axis":{"values":[0,1,2,3,4,5,6],"title":null}},"strokeDash":{"field":"g","type":"nominal","scale":{"domain":["OP","CL"],"range":[[1,0],[3,4]]},"legend":null}}},
{"data":{"name":"d"},"transform":[{"filter":"datum.p=='G'"}],"mark":{"type":"circle","size":85,"stroke":"black","strokeWidth":1,"opacity":1},"encoding":{"x":{"field":"day","type":"quantitative","scale":{"domain":[0.125,7],"nice":false,"zero":false},"axis":{"values":[1,2,3,4,5,6,7],"format":"d","title":null}},"y":{"field":"m","type":"quantitative","scale":{"domain":[0,6],"nice":false},"axis":{"values":[0,1,2,3,4,5,6],"title":null}},"fill":{"field":"s","type":"nominal","scale":{"domain":["HP","LP"],"range":["#e5232a","#3cb6e4"]},"legend":null}}}
]},
{"width":276,"height":202,"title":{"text":"H","offset":9},
"layer":[
{"data":{"name":"one"},"mark":{"type":"rule","color":"black","strokeWidth":2,"strokeDash":[2,2.5]},"encoding":{"y":{"datum":0.5,"type":"quantitative","scale":{"domain":[0,6],"nice":false},"axis":{"values":[0,1,2,3,4,5,6],"title":null}}}},
{"data":{"name":"d"},"transform":[{"filter":"datum.p=='H' && isValid(datum.lo)"}],"mark":{"type":"rule","color":"black","strokeWidth":1.3},"encoding":{"x":{"field":"day","type":"quantitative","scale":{"domain":[0.125,7],"nice":false,"zero":false},"axis":{"values":[1,2,3,4,5,6,7],"format":"d","title":null}},"y":{"field":"lo","type":"quantitative","scale":{"domain":[0,6],"nice":false},"axis":{"values":[0,1,2,3,4,5,6],"title":null}},"y2":{"field":"hi"}}},
{"data":{"name":"d"},"transform":[{"filter":"datum.p=='H' && isValid(datum.lo)"}],"mark":{"type":"tick","orient":"horizontal","color":"black","thickness":1.3,"size":10},"encoding":{"x":{"field":"day","type":"quantitative","scale":{"domain":[0.125,7],"nice":false,"zero":false},"axis":{"values":[1,2,3,4,5,6,7],"format":"d","title":null}},"y":{"field":"lo","type":"quantitative","scale":{"domain":[0,6],"nice":false},"axis":{"values":[0,1,2,3,4,5,6],"title":null}}}},
{"data":{"name":"d"},"transform":[{"filter":"datum.p=='H' && isValid(datum.lo)"}],"mark":{"type":"tick","orient":"horizontal","color":"black","thickness":1.3,"size":10},"encoding":{"x":{"field":"day","type":"quantitative","scale":{"domain":[0.125,7],"nice":false,"zero":false},"axis":{"values":[1,2,3,4,5,6,7],"format":"d","title":null}},"y":{"field":"hi","type":"quantitative","scale":{"domain":[0,6],"nice":false},"axis":{"values":[0,1,2,3,4,5,6],"title":null}}}},
{"data":{"name":"d"},"transform":[{"filter":"datum.p=='H'"}],"mark":{"type":"line","color":"black","strokeWidth":1.3},"encoding":{"x":{"field":"day","type":"quantitative","scale":{"domain":[0.125,7],"nice":false,"zero":false},"axis":{"values":[1,2,3,4,5,6,7],"format":"d","title":null}},"y":{"field":"m","type":"quantitative","scale":{"domain":[0,6],"nice":false},"axis":{"values":[0,1,2,3,4,5,6],"title":null}},"strokeDash":{"field":"g","type":"nominal","scale":{"domain":["OP","CL"],"range":[[1,0],[3,4]]},"legend":null}}},
{"data":{"name":"d"},"transform":[{"filter":"datum.p=='H'"}],"mark":{"type":"circle","size":85,"stroke":"black","strokeWidth":1,"opacity":1},"encoding":{"x":{"field":"day","type":"quantitative","scale":{"domain":[0.125,7],"nice":false,"zero":false},"axis":{"values":[1,2,3,4,5,6,7],"format":"d","title":null}},"y":{"field":"m","type":"quantitative","scale":{"domain":[0,6],"nice":false},"axis":{"values":[0,1,2,3,4,5,6],"title":null}},"fill":{"field":"s","type":"nominal","scale":{"domain":["HP","LP"],"range":["#e5232a","#3cb6e4"]},"legend":null}}}
]}
]
}
